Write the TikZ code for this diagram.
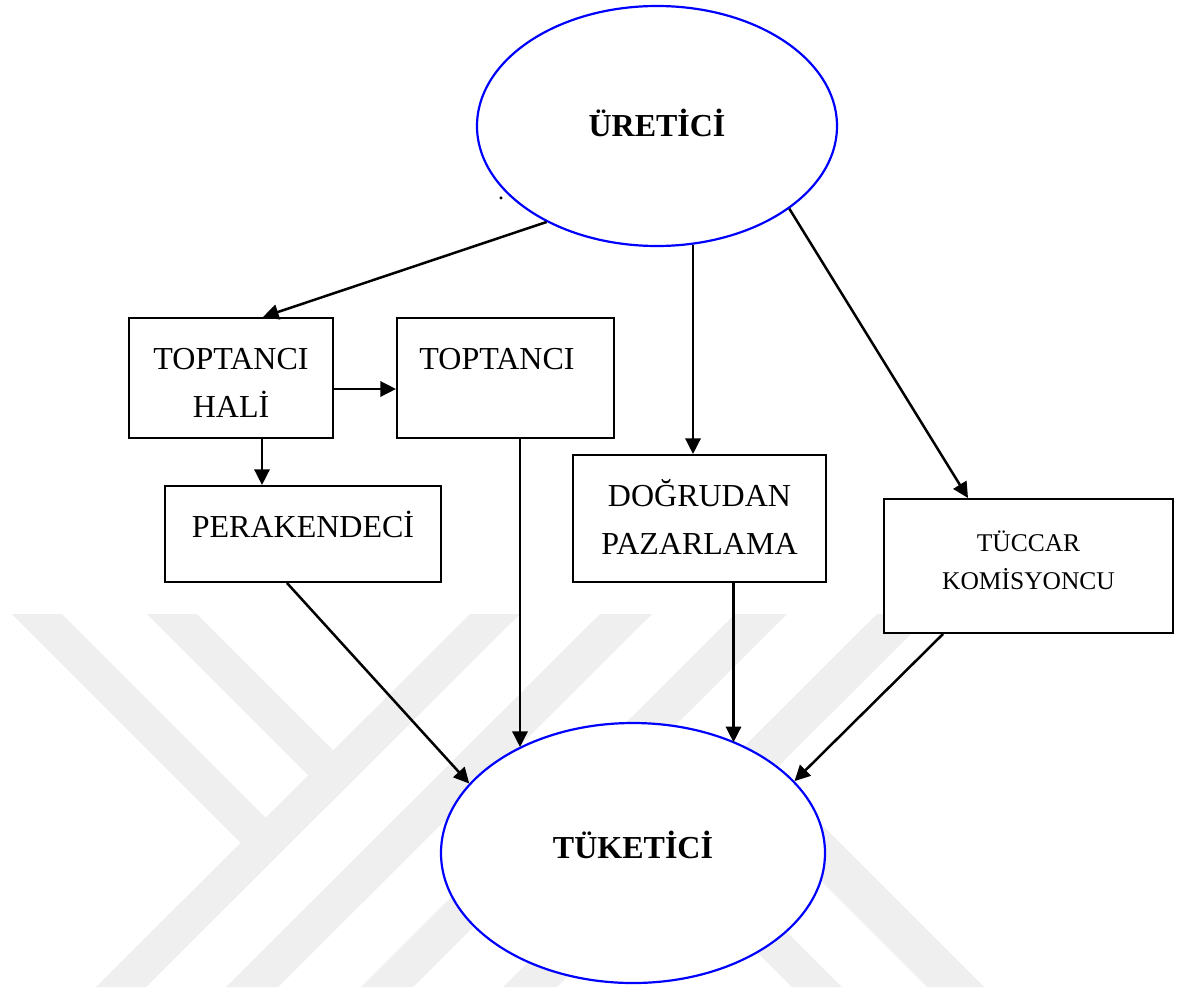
\documentclass[tikz,border=0pt]{standalone}
\usepackage{fontspec}
\setmainfont{Liberation Serif}
\usetikzlibrary{shapes.geometric,arrows.meta,calc}
\definecolor{wm}{RGB}{239,239,239}
\definecolor{elblue}{RGB}{0,0,255}
\newcommand{\twolines}[2]{\vtop{\halign{\hfil##\hfil\cr#1\cr#2\cr}}}
\begin{document}
\begin{tikzpicture}[x=0.5pt,y=-0.5pt,
  box/.style={draw=black, line width=1pt, fill=white, rectangle, inner sep=0pt,
    font=\fontsize{16}{24}\selectfont, text height=10.6pt},
  oval/.style={ellipse, draw=elblue, line width=1.1pt, fill=white, inner sep=0pt,
    font=\fontsize{16}{24}\selectfont\bfseries, text height=10.6pt},
  arr/.style={line width=1.25pt, -{Triangle[length=7.8pt,width=7.6pt]}},
  wmark/.style={fill=wm}
]
\fill[white] (0,0) rectangle (1181,990);
\useasboundingbox (0,0) rectangle (1181,990);

% watermark
\begin{scope}
\clip (0,614) rectangle (1181,987);
\fill[wmark] (12,614) -- (62,614) -- (274,826) -- (249,851) -- cycle;
\fill[wmark] (147,614) -- (197,614) -- (341.5,758.5) -- (316.5,783.5) -- cycle;
\fill[wmark] (470,614) -- (520,614) -- (146,987) -- (96,987) -- cycle;
\fill[wmark] (600,614) -- (652,614) -- (278,987) -- (226,987) -- cycle;
\fill[wmark] (735,614) -- (787,614) -- (413,987) -- (361,987) -- cycle;
\fill[wmark] (877,614) -- (931,614) -- (557,987) -- (503,987) -- cycle;
\fill[wmark] (728.5,788.5) -- (757,760) -- (984,987) -- (927,987) -- cycle;
\fill[wmark] (589.5,784.5) -- (614.5,759.5) -- (842,987) -- (792,987) -- cycle;
\end{scope}

% nodes
\node[oval, minimum width=180pt, minimum height=120pt, text depth=0pt] (ure) at (657,126) {ÜRETİCİ};
\node[oval, minimum width=192pt, minimum height=130pt, text depth=5.6pt] (tuk) at (633,853) {TÜKETİCİ};

\node[box, minimum width=102pt, minimum height=60pt, text depth=19.6pt] (hali) at (231,378) {\twolines{TOPTANCI}{HALİ}};
\node[box, minimum width=108.5pt, minimum height=60pt, text depth=19.6pt] (top) at (505.5,378) {TOPTANCI\hspace*{8.5pt}};
\node[box, minimum width=138pt, minimum height=48pt, text depth=7.6pt] (per) at (303,534) {PERAKENDECİ};
\node[box, minimum width=126.5pt, minimum height=63.5pt, text depth=23.1pt] (dog) at (699.5,518.5) {\twolines{DOĞRUDAN}{PAZARLAMA}};
\node[box, minimum width=144.5pt, minimum height=67pt, font=\fontsize{12.75}{19}\selectfont,
  text height=8.44pt, text depth=23.44pt] (tuc) at (1028.5,566) {\twolines{TÜCCAR}{KOMİSYONCU}};

\node[font=\fontsize{12}{14}\selectfont, inner sep=0pt, anchor=base] (dot) at (501,199) {.};

% connectors
\draw[arr] (ure.221.3) -- ([xshift=16pt]hali.north);
\draw[arr] ([yshift=-5.5pt]hali.east) -- ([yshift=-5.5pt]hali.east -| top.west);
\draw[arr] ([xshift=15.5pt]hali.south) -- ([xshift=15.5pt]hali.south |- per.north);
\coordinate (dogin) at ([xshift=-3.25pt]dog.north);
\draw[arr] (ure.-73 -| dogin) -- (dogin);
\draw[arr] (ure.-32.7) -- ([xshift=-30.25pt]tuc.north);
\draw[arr] ([xshift=-8pt]per.south) -- (tuk.157);
\coordinate (topout) at ([xshift=7.25pt]top.south);
\draw[arr] (topout) -- (topout |- tuk.137);
\coordinate (dogout) at ([xshift=17pt]dog.south);
\draw[arr] (dogout) -- (dogout |- tuk.47.6);
\draw[arr] ([xshift=-42.75pt]tuc.south) -- (tuk.24.6);
\end{tikzpicture}
\end{document}
